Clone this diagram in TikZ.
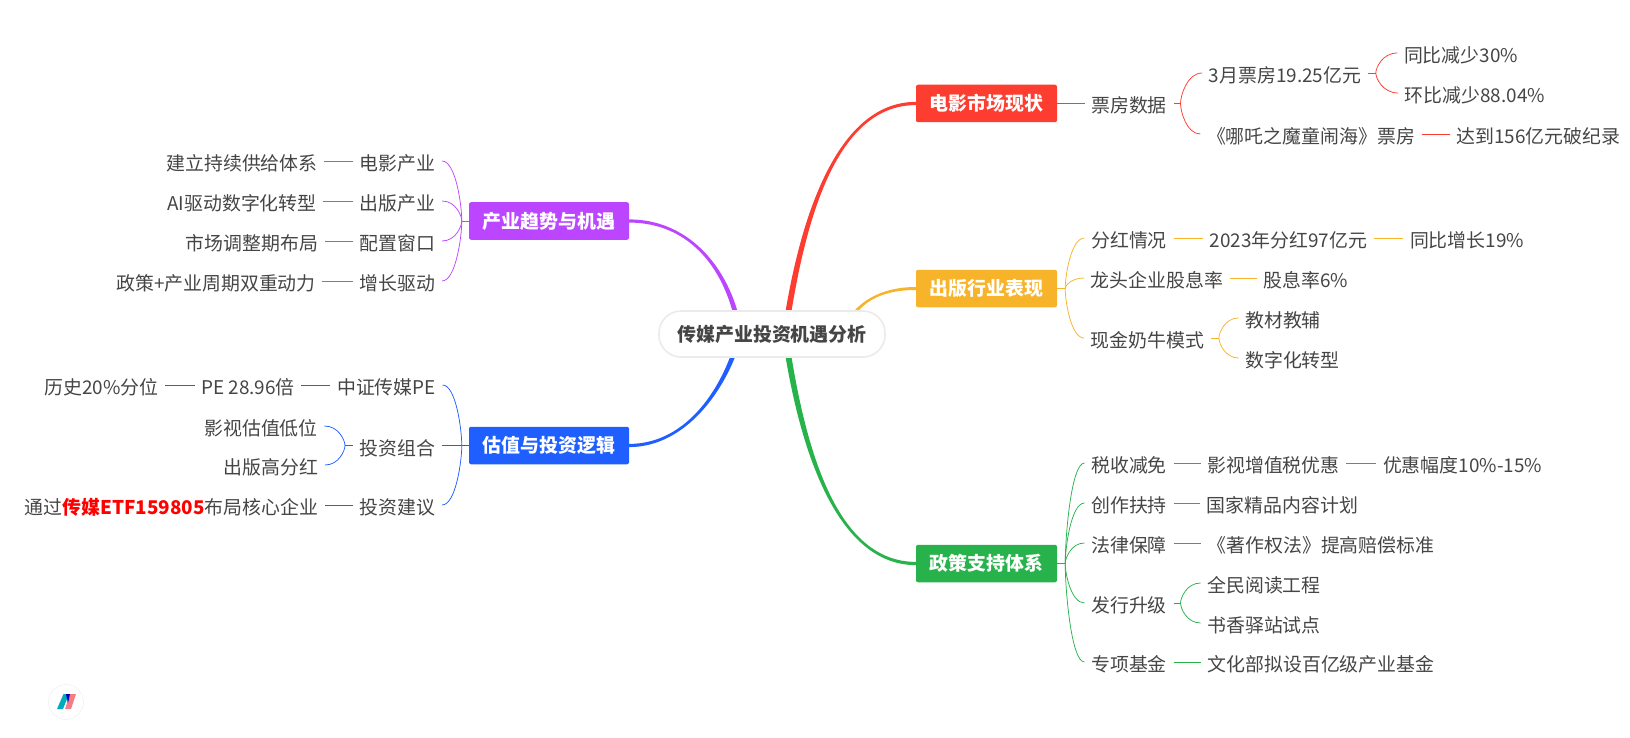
\documentclass[tikz,border=0pt]{standalone}
\usepackage{fontspec}
\setmainfont{Noto Sans CJK SC}
\usetikzlibrary{positioning,calc,backgrounds}
\definecolor{inkgray}{HTML}{454545}
\definecolor{filmred}{HTML}{FC3D30}
\definecolor{pubyellow}{HTML}{F7B329}
\definecolor{policygreen}{HTML}{28B24B}
\definecolor{trendpurple}{HTML}{BC46FF}
\definecolor{valueblue}{HTML}{1F5FFF}
\tikzset{
  leaf/.style={text=inkgray,font=\fontsize{18.9}{20}\selectfont,inner xsep=6.5pt,inner ysep=0pt,text height=22pt,text depth=3pt},
  topic/.style={fill=#1,text=white,font=\fontsize{18.9}{20}\selectfont\bfseries,rounded corners=2pt,minimum width=141pt,minimum height=37.5pt,inner sep=0pt},
  twig/.style={line width=.75pt},
  curl/.style={to path={.. controls ($(\tikztostart)!.25!(\tikztostart|-\tikztotarget)$) and ($(\tikztostart|-\tikztotarget)!.3!(\tikztotarget)$) .. (\tikztotarget) \tikztonodes}},
}
% colour, start, end, start control, end control, half width at end, half width at start
\newcommand{\trunk}[7]{\fill[#1] ($(#2)+(-#7,0)$) .. controls ($(#2)+(#4)+(-#7,0)$) and ($(#3)+(#5)+(0,#6)$) .. ($(#3)+(0,#6)$) -- ($(#3)+(0,-1*#6)$) .. controls ($(#3)+(#5)+(0,-1*#6)$) and ($(#2)+(#4)+(#7,0)$) .. ($(#2)+(#7,0)$) -- cycle;}
\begin{document}
\begin{tikzpicture}[on grid,x=1pt,y=1pt]
	\useasboundingbox (0,0) rectangle (1630,-738);
	\node[draw=black!8,line width=1.6pt,fill=white,rounded corners=22pt,minimum width=226pt,minimum height=46pt,inner sep=0pt,text=inkgray,font=\fontsize{18.9}{20}\selectfont\bfseries](root) at (772,-334) {传媒产业投资机遇分析};
	% main topics
	\node[topic=filmred](film)[above right=230.5pt and 214.5pt of root] {电影市场现状};
	\node[topic=pubyellow](pub)[above right=45.5pt and 214.5pt of root] {出版行业表现};
	\node[topic=policygreen](policy)[below right=229.5pt and 214.5pt of root] {政策支持体系};
	\node[topic=trendpurple,minimum width=160pt](trend)[above left=113pt and 223pt of root] {产业趋势与机遇};
	\node[topic=valueblue,minimum width=160pt](value)[below left=111.5pt and 223pt of root] {估值与投资逻辑};
	% red
	\node[leaf](boxoffice)[right=142.5pt of film] {票房数据};
	\node[leaf](march)[above right=30.5pt and 156pt of boxoffice] {3月票房19.25亿元};
	\node[leaf](yoy)[above right=20pt and 176pt of march] {同比减少30\%};
	\node[leaf](mom)[below right=20pt and 190pt of march] {环比减少88.04\%};
	\node[leaf](nezha)[below right=30.5pt and 182pt of boxoffice] {《哪吒之魔童闹海》票房};
	\node[leaf](record)[right=227.5pt of nezha] {达到156亿元破纪录};
	\coordinate[right=7pt of boxoffice.east](boxfork);
	\coordinate[right=8pt of march.east](marchfork);
	% yellow
	\node[leaf](dividend)[above right=50.5pt and 142.5pt of pub] {分红情况};
	\node[leaf](divtotal)[right=159.5pt of dividend] {2023年分红97亿元};
	\node[leaf](divgrowth)[right=178.5pt of divtotal] {同比增长19\%};
	\node[leaf](leader)[above right=10.5pt and 170.5pt of pub] {龙头企业股息率};
	\node[leaf](yieldrate)[right=149pt of leader] {股息率6\%};
	\node[leaf](cash)[below right=49.5pt and 161pt of pub] {现金奶牛模式};
	\node[leaf](books)[above right=20pt and 135.5pt of cash] {教材教辅};
	\node[leaf](digital)[below right=20pt and 145pt of cash] {数字化转型};
	\coordinate[right=8pt of pub.east](pubfork);
	\coordinate[right=8pt of cash.east](cashfork);
	% green
	\node[leaf](tax)[above right=100.5pt and 142.5pt of policy] {税收减免};
	\node[leaf](vat)[right=144.5pt of tax] {影视增值税优惠};
	\node[leaf](taxcut)[right=189pt of vat] {优惠幅度10\%-15\%};
	\node[leaf](create)[above right=60.5pt and 142.5pt of policy] {创作扶持};
	\node[leaf](quality)[right=153.5pt of create] {国家精品内容计划};
	\node[leaf](law)[above right=20.5pt and 142.5pt of policy] {法律保障};
	\node[leaf](copyright)[right=192pt of law] {《著作权法》提高赔偿标准};
	\node[leaf](issue)[below right=39.5pt and 142.5pt of policy] {发行升级};
	\node[leaf](reading)[above right=20pt and 135pt of issue] {全民阅读工程};
	\node[leaf](station)[below right=20pt and 135pt of issue] {书香驿站试点};
	\node[leaf](fund)[below right=98.5pt and 142.5pt of policy] {专项基金};
	\node[leaf](basefund)[right=192pt of fund] {文化部拟设百亿级产业基金};
	\coordinate[right=8pt of policy.east](policyfork);
	\coordinate[right=7pt of issue.east](issuefork);
	% purple
	\node[leaf](movie)[above left=60pt and 151.5pt of trend] {电影产业};
	\node[leaf](supply)[left=155.5pt of movie] {建立持续供给体系};
	\node[leaf](publish)[above left=20pt and 151.5pt of trend] {出版产业};
	\node[leaf](aidigital)[left=155.5pt of publish] {AI驱动数字化转型};
	\node[leaf](window)[below left=20pt and 151.5pt of trend] {配置窗口};
	\node[leaf](adjust)[left=145.5pt of window] {市场调整期布局};
	\node[leaf](drive)[below left=60pt and 151.5pt of trend] {增长驱动};
	\node[leaf](dual)[left=181.5pt of drive] {政策+产业周期双重动力};
	\coordinate[left=7pt of trend.west](trendfork);
	% blue
	\node[leaf](csi)[above left=60.5pt and 162.5pt of value] {中证传媒PE};
	\node[leaf](pe)[left=138.5pt of csi] {PE 28.96倍};
	\node[leaf](hist)[left=146.5pt of pe] {历史20\%分位};
	\node[leaf](portfolio)[left=151.5pt of value] {投资组合};
	\node[leaf](lowval)[above left=19.5pt and 136.5pt of portfolio] {影视估值低位};
	\node[leaf](highdiv)[below left=19.5pt and 126.5pt of portfolio] {出版高分红};
	\node[leaf](advice)[below left=59.5pt and 151.5pt of value] {投资建议};
	\node[leaf](core)[left=226pt of advice] {通过\textcolor{red}{\bfseries 传媒ETF159805}布局核心企业};
	\coordinate[left=7pt of value.west](valuefork);
	\coordinate[left=8pt of portfolio.west](portfork);
	% logo
	\node[draw=black!8,fill=white,circle,minimum size=35pt,inner sep=0pt](logo) at (66,-702) {};
	\fill[cyan!70!green] (57,-709) -- (63.5,-694) -- (69,-694) -- (63,-709) -- cycle;
	\fill[magenta!50!orange!70] (65,-709) -- (70,-694) -- (76,-694) -- (71,-709) -- cycle;
	\fill[blue!70!black] (66,-694) -- (70,-694) -- (68,-703) -- cycle;
	% main curves
	\coordinate[right=13pt of root](filmstart);
	\coordinate[right=13pt of root](policystart);
	\coordinate[above right=4pt and 73pt of root](pubstart);
	\coordinate[left=32pt of root](trendstart);
	\coordinate[left=32pt of root](valuestart);
	\begin{scope}[on background layer]
		\trunk{filmred}{filmstart}{film.west}{17,119}{-78,0}{1.6}{3}
		\trunk{policygreen}{policystart}{policy.west}{17,-119}{-78,0}{-1.6}{3}
		\trunk{pubyellow}{pubstart}{pub.west}{10,27}{-36,0}{1.5}{2.2}
		\trunk{trendpurple}{trendstart}{trend.east}{-10,64}{61,0}{-1.6}{2.6}
		\trunk{valueblue}{valuestart}{value.east}{-13,-51}{59,0}{1.6}{2.6}
	\end{scope}
	% connectors
	\path[twig,draw=filmred]
	(film.east) edge (boxoffice.west)
	(boxoffice.east) edge (boxfork)
	(boxfork) edge [curl] (march.west)
	(boxfork) edge [curl] (nezha.west)
	(march.east) edge (marchfork)
	(marchfork) edge [curl] (yoy.west)
	(marchfork) edge [curl] (mom.west)
	(nezha.east) edge (record.west);
	\path[twig,draw=pubyellow]
	(pub.east) edge (pubfork)
	(pubfork) edge [curl] (dividend.west)
	(pubfork) edge [curl] (leader.west)
	(pubfork) edge [curl] (cash.west)
	(dividend.east) edge (divtotal.west)
	(divtotal.east) edge (divgrowth.west)
	(leader.east) edge (yieldrate.west)
	(cash.east) edge (cashfork)
	(cashfork) edge [curl] (books.west)
	(cashfork) edge [curl] (digital.west);
	\path[twig,draw=policygreen]
	(policy.east) edge (policyfork)
	(policyfork) edge [curl] (tax.west)
	(policyfork) edge [curl] (create.west)
	(policyfork) edge [curl] (law.west)
	(policyfork) edge [curl] (issue.west)
	(policyfork) edge [curl] (fund.west)
	(tax.east) edge (vat.west)
	(vat.east) edge (taxcut.west)
	(create.east) edge (quality.west)
	(law.east) edge (copyright.west)
	(issue.east) edge (issuefork)
	(issuefork) edge [curl] (reading.west)
	(issuefork) edge [curl] (station.west)
	(fund.east) edge (basefund.west);
	\path[twig,draw=trendpurple]
	(trend.west) edge (trendfork)
	(trendfork) edge [curl] (movie.east)
	(trendfork) edge [curl] (publish.east)
	(trendfork) edge [curl] (window.east)
	(trendfork) edge [curl] (drive.east)
	(movie.west) edge (supply.east)
	(publish.west) edge (aidigital.east)
	(window.west) edge (adjust.east)
	(drive.west) edge (dual.east);
	\path[twig,draw=valueblue]
	(value.west) edge (valuefork)
	(valuefork) edge [curl] (csi.east)
	(valuefork) edge (portfolio.east)
	(valuefork) edge [curl] (advice.east)
	(csi.west) edge (pe.east)
	(pe.west) edge (hist.east)
	(portfolio.west) edge (portfork)
	(portfork) edge [curl] (lowval.east)
	(portfork) edge [curl] (highdiv.east)
	(advice.west) edge (core.east);
\end{tikzpicture}
\end{document}
